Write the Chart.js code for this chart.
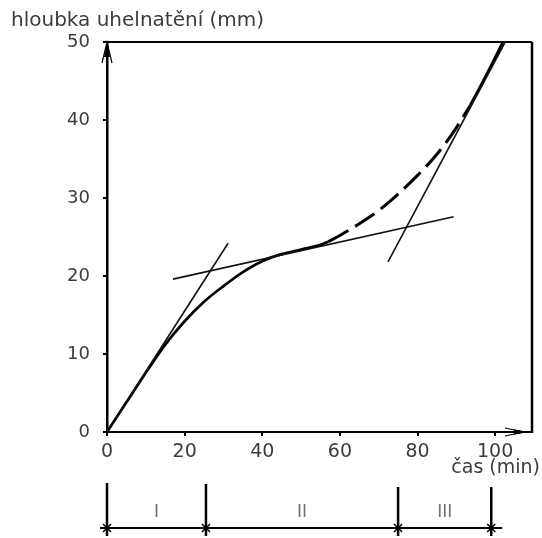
<!DOCTYPE html>
<html>
<head>
<meta charset="utf-8">
<script src="https://cdn.jsdelivr.net/npm/chart.js@4"></script>
<style>
html,body{margin:0;padding:0;background:#fff;}
#wrap{width:542px;height:538px;}
</style>
</head>
<body>
<div id="wrap"><canvas id="c" width="542" height="538"></canvas></div>
<script>
// ---- data ----
const xTicks = [0, 20, 40, 60, 80, 100];
const yTicks = [0, 10, 20, 30, 40, 50];

// main curve, solid part
const curveX = [0, 5, 10, 15, 20, 25, 30, 35, 40, 45, 50, 55, 57];
const curveY = [0, 3.8, 7.6, 11.2, 14.2, 16.7, 18.7, 20.5, 21.9, 22.8, 23.4, 24.0, 24.4];
// main curve, dashed part
const dashX = [57, 60, 65, 70, 75, 80, 85, 90, 93.5];
const dashY = [24.4, 25.2, 26.7, 28.4, 30.5, 32.9, 35.6, 39.0, 41.8];
// main curve, final solid part
const endX = [93.5, 96, 99, 102];
const endY = [41.8, 44.1, 47.0, 50];
// tangent lines
const tan1X = [0, 31.2];
const tan1Y = [0, 24.2];
const tan2X = [17, 89.3];
const tan2Y = [19.6, 27.6];
const tan3X = [72.4, 102.6];
const tan3Y = [21.8, 50];

// phases below the axis
const phaseBounds = [0, 25.5, 75, 99];
const phaseLabels = ['I', 'II', 'III'];

const yTitle = 'hloubka uhelnatění (mm)';
const xTitle = 'čas (min)';

const pts = (xs, ys) => xs.map((x, i) => ({x: x, y: ys[i]}));
const FONT = '"DejaVu Sans", sans-serif';
const TXT = '#3c3c3c';

const extras = {
  id: 'extras',
  afterDraw(chart) {
    const ctx = chart.ctx;
    const a = chart.chartArea;
    const xs = chart.scales.x;
    ctx.save();
    ctx.strokeStyle = '#000';
    ctx.fillStyle = '#000';
    ctx.lineCap = 'butt';
    // frame top & right
    ctx.lineWidth = 2;
    ctx.beginPath();
    ctx.moveTo(a.left, a.top);
    ctx.lineTo(a.right, a.top);
    ctx.stroke();
    ctx.lineWidth = 2.5;
    ctx.beginPath();
    ctx.moveTo(a.right, a.top);
    ctx.lineTo(a.right, a.bottom + 1);
    ctx.stroke();
    // y arrow
    const L = a.left;
    ctx.beginPath();
    ctx.moveTo(L, a.top);
    ctx.lineTo(L - 3, a.top + 15);
    ctx.lineTo(L + 3, a.top + 15);
    ctx.closePath();
    ctx.fill();
    ctx.lineWidth = 1.2;
    ctx.beginPath();
    ctx.moveTo(L - 5, a.top + 21);
    ctx.lineTo(L, a.top);
    ctx.lineTo(L + 5, a.top + 21);
    ctx.stroke();
    // x arrow
    const B = a.bottom;
    ctx.beginPath();
    ctx.moveTo(a.right - 3, B);
    ctx.lineTo(a.right - 18, B - 2.5);
    ctx.lineTo(a.right - 18, B + 2.5);
    ctx.closePath();
    ctx.fill();
    ctx.lineWidth = 1.2;
    ctx.beginPath();
    ctx.moveTo(a.right - 27, B - 4);
    ctx.lineTo(a.right - 8, B);
    ctx.lineTo(a.right - 27, B + 4);
    ctx.stroke();

    // titles
    ctx.fillStyle = TXT;
    ctx.font = '20px ' + FONT;
    ctx.textBaseline = 'middle';
    ctx.textAlign = 'left';
    ctx.fillText(yTitle, 11, 21);
    ctx.font = '19px ' + FONT;
    ctx.textAlign = 'right';
    ctx.fillText(xTitle, 540, 468);

    // phase bar
    const barY = 528;
    const px = phaseBounds.map(v => xs.getPixelForValue(v));
    ctx.strokeStyle = '#000';
    ctx.lineWidth = 2;
    ctx.beginPath();
    ctx.moveTo(px[0] - 7, barY);
    ctx.lineTo(px[px.length - 1] + 11, barY);
    ctx.stroke();
    const tops = [483, 484, 487, 487];
    ctx.lineWidth = 2.5;
    px.forEach((p, i) => {
      ctx.beginPath();
      ctx.moveTo(p, tops[i]);
      ctx.lineTo(p, 536);
      ctx.stroke();
    });
    ctx.lineWidth = 1.5;
    px.forEach(p => {
      ctx.beginPath();
      ctx.moveTo(p - 4, barY - 4);
      ctx.lineTo(p + 4, barY + 4);
      ctx.moveTo(p - 4, barY + 4);
      ctx.lineTo(p + 4, barY - 4);
      ctx.stroke();
    });
    ctx.fillStyle = '#707070';
    ctx.font = '17px ' + FONT;
    ctx.textAlign = 'center';
    ctx.textBaseline = 'middle';
    phaseLabels.forEach((t, i) => {
      const c = xs.getPixelForValue((phaseBounds[i] + phaseBounds[i + 1]) / 2);
      ctx.fillText(t, c, 513);
    });
    ctx.restore();
  }
};

const curveStyle = {borderColor: '#000', pointRadius: 0, fill: false, clip: false, cubicInterpolationMode: 'monotone'};
const lineStyle = {borderColor: '#111', borderWidth: 1.6, pointRadius: 0, fill: false, clip: false, tension: 0};

new Chart(document.getElementById('c'), {
  type: 'line',
  data: {
    datasets: [
      Object.assign({data: pts(tan1X, tan1Y)}, lineStyle),
      Object.assign({data: pts(tan2X, tan2Y)}, lineStyle),
      Object.assign({data: pts(tan3X, tan3Y)}, lineStyle),
      Object.assign({data: pts(curveX, curveY), borderWidth: 2.7}, curveStyle),
      Object.assign({data: pts(dashX, dashY), borderWidth: 3, borderDash: [23, 8]}, curveStyle),
      Object.assign({data: pts(endX, endY), borderWidth: 2.8}, curveStyle)
    ]
  },
  options: {
    responsive: false,
    animation: false,
    events: [],
    layout: {padding: {top: 42, right: 10, left: 0, bottom: 0}},
    plugins: {legend: {display: false}, tooltip: {enabled: false}, title: {display: false}},
    scales: {
      x: {
        type: 'linear', min: 0, max: 109.5,
        afterFit(s) { s.height = 106; },
        afterBuildTicks(s) { s.ticks = xTicks.map(v => ({value: v})); },
        grid: {drawOnChartArea: false, drawTicks: true, tickLength: 4, color: '#000', lineWidth: 2},
        border: {display: true, color: '#000', width: 2},
        ticks: {color: TXT, font: {family: FONT, size: 19}, padding: 5, maxRotation: 0}
      },
      y: {
        type: 'linear', min: 0, max: 50,
        afterFit(s) { s.width = 107; },
        afterBuildTicks(s) { s.ticks = yTicks.map(v => ({value: v})); },
        grid: {drawOnChartArea: false, drawTicks: true, tickLength: 4, color: '#000', lineWidth: 2},
        border: {display: true, color: '#000', width: 2.5},
        ticks: {color: TXT, font: {family: FONT, size: 18}, padding: 13}
      }
    }
  },
  plugins: [extras]
});
</script>
</body>
</html>
